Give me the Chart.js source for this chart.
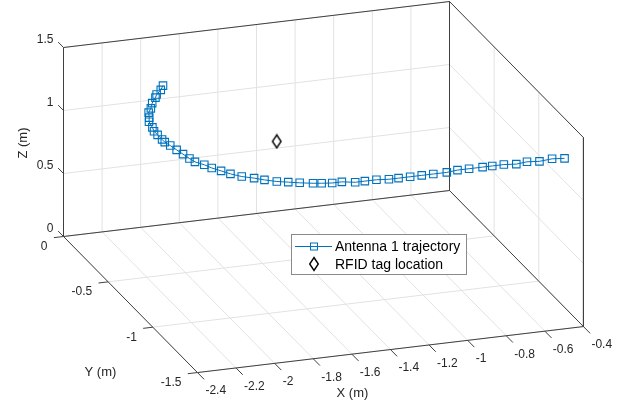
<!DOCTYPE html>
<html lang="en">
<head>
<meta charset="UTF-8">
<title>Antenna 1 trajectory</title>
<script src="https://cdn.jsdelivr.net/npm/chart.js"></script>
<style>
  html, body { margin: 0; padding: 0; background: #fff; }
  #wrap { width: 630px; height: 407px; }
</style>
</head>
<body>
<div id="wrap"><canvas id="trajChart" width="630" height="407"></canvas></div>
<script>
// axis ticks (metres)
const xTicks = [-2.4, -2.2, -2, -1.8, -1.6, -1.4, -1.2, -1, -0.8, -0.6, -0.4];
const yTicks = [0, -0.5, -1, -1.5];
const zTicks = [0, 0.5, 1, 1.5];
const xTickLabels = ['-2.4', '-2.2', '-2', '-1.8', '-1.6', '-1.4', '-1.2', '-1', '-0.8', '-0.6', '-0.4'];
const yTickLabels = ['0', '-0.5', '-1', '-1.5'];
const zTickLabels = ['0', '0.5', '1', '1.5'];

// antenna 1 trajectory
const trajX = [-1.94, -1.97, -2.01, -2.03, -2.07, -2.10, -2.13, -2.15, -2.17, -2.18, -2.19, -2.19, -2.19,
               -2.19, -2.18, -2.17, -2.16, -2.15, -2.14, -2.11, -2.09, -2.06, -2.03, -1.99, -1.94, -1.90,
               -1.85, -1.80, -1.75, -1.69, -1.65, -1.60, -1.55, -1.49, -1.44, -1.38, -1.32, -1.27, -1.21,
               -1.15, -1.09, -1.02, -0.96, -0.90, -0.83, -0.78, -0.72, -0.66, -0.60, -0.54, -0.47, -0.41];
const trajY = [-0.12, -0.16, -0.20, -0.23, -0.28, -0.33, -0.37, -0.42, -0.46, -0.52, -0.56, -0.60, -0.65,
               -0.68, -0.72, -0.77, -0.82, -0.87, -0.91, -0.95, -0.99, -1.03, -1.07, -1.11, -1.14, -1.17,
               -1.20, -1.22, -1.24, -1.26, -1.27, -1.28, -1.28, -1.30, -1.30, -1.30, -1.31, -1.31, -1.31,
               -1.31, -1.31, -1.31, -1.30, -1.30, -1.30, -1.30, -1.30, -1.31, -1.30, -1.31, -1.30, -1.31];
const trajZ = [1.2, 1.2, 1.2, 1.2, 1.2, 1.2, 1.2, 1.2, 1.2, 1.2, 1.2, 1.2, 1.2,
               1.2, 1.2, 1.2, 1.2, 1.2, 1.2, 1.2, 1.2, 1.2, 1.2, 1.2, 1.2, 1.2,
               1.2, 1.2, 1.2, 1.2, 1.2, 1.2, 1.2, 1.2, 1.2, 1.2, 1.2, 1.2, 1.2,
               1.2, 1.2, 1.2, 1.2, 1.2, 1.2, 1.2, 1.2, 1.2, 1.2, 1.2, 1.2, 1.2];

// RFID tag
const tagX = [-1.61];
const tagY = [-0.68];
const tagZ = [1.1];

const seriesNames = ['Antenna 1 trajectory', 'RFID tag location'];

// fixed view: orthographic projection of the 3d box onto the flat scales
const X0 = -2.4, X1 = -0.4, Y0 = 0, Y1 = -1.5, Z0 = 0, Z1 = 1.5;
function proj(X, Y, Z) {
    return {
        x: 63.5 + (X - X0) * 193 + (Y - Y0) * -89.3,
        y: 236.5 + (X - X0) * -23 + (Y - Y0) * -90.7 + (Z - Z0) * -126
    };
}

// join 3d segments into one dataset with gaps
function segments(list) {
    const out = [];
    list.forEach(s => {
        out.push(proj(s[0][0], s[0][1], s[0][2]));
        out.push(proj(s[1][0], s[1][1], s[1][2]));
        out.push({ x: null, y: null });
    });
    return out;
}

const gridSegs = [];
xTicks.forEach(x => {
    gridSegs.push([[x, Y0, Z0], [x, Y0, Z1]]);   // back wall
    gridSegs.push([[x, Y0, Z0], [x, Y1, Z0]]);   // floor
});
yTicks.forEach(y => {
    gridSegs.push([[X0, y, Z0], [X1, y, Z0]]);   // floor
    gridSegs.push([[X1, y, Z0], [X1, y, Z1]]);   // right wall
});
zTicks.forEach(z => {
    gridSegs.push([[X0, Y0, z], [X1, Y0, z]]);   // back wall
    gridSegs.push([[X1, Y0, z], [X1, Y1, z]]);   // right wall
});

const boxSegs = [
    [[X0, Y0, Z0], [X0, Y0, Z1]],
    [[X0, Y0, Z1], [X1, Y0, Z1]],
    [[X1, Y0, Z1], [X1, Y0, Z0]],
    [[X1, Y0, Z1], [X1, Y1, Z1]],
    [[X1, Y1, Z1], [X1, Y1, Z0]],
    [[X0, Y0, Z0], [X1, Y0, Z0]],
    [[X1, Y0, Z0], [X1, Y1, Z0]],
    [[X0, Y0, Z0], [X0, Y1, Z0]],
    [[X0, Y1, Z0], [X1, Y1, Z0]]
];
// little tick marks
xTicks.forEach(x => boxSegs.push([[x, Y1, Z0], [x, Y1 - 0.075, Z0]]));
yTicks.forEach(y => boxSegs.push([[X0, y, Z0], [X0 - 0.05, y, Z0]]));
zTicks.forEach(z => boxSegs.push([[X0, Y0, z], [X0, Y0 + 0.06, z]]));

const trajPoints = trajX.map((x, i) => proj(x, trajY[i], trajZ[i]));
const tagPoints = tagX.map((x, i) => proj(x, tagY[i], tagZ[i]));

// MATLAB style diamond (taller than wide)
const diamond = document.createElement('canvas');
diamond.width = 12;
diamond.height = 16;
(function () {
    const c = diamond.getContext('2d');
    c.strokeStyle = '#000';
    c.lineWidth = 1.4;
    c.beginPath();
    c.moveTo(6, 1.5);
    c.lineTo(10.3, 8);
    c.lineTo(6, 14.5);
    c.lineTo(1.7, 8);
    c.closePath();
    c.stroke();
})();

const BLUE = '#0072BD';
const FONT = '"Liberation Sans", Arial, sans-serif';
const TEXT = '#262626';

const axisText = {
    id: 'axisText',
    afterDatasetsDraw(chart) {
        const ctx = chart.ctx;
        const sx = chart.scales.x, sy = chart.scales.y;
        const px = p => [sx.getPixelForValue(p.x), sy.getPixelForValue(p.y)];
        ctx.save();
        ctx.fillStyle = TEXT;
        ctx.font = '12px ' + FONT;
        ctx.textBaseline = 'middle';

        ctx.textAlign = 'right';
        zTicks.forEach((z, i) => {
            const [x, y] = px(proj(X0, Y0, z));
            ctx.fillText(zTickLabels[i], x - 10, y - 8);
        });
        yTicks.forEach((v, i) => {
            const [x, y] = px(proj(X0, v, Z0));
            ctx.fillText(yTickLabels[i], x - 16, y + 10);
        });
        ctx.textAlign = 'left';
        xTicks.forEach((v, i) => {
            const [x, y] = px(proj(v, Y1, Z0));
            ctx.fillText(xTickLabels[i], x + 8, y + 18.5);
        });

        // axis titles
        ctx.font = '13px ' + FONT;
        ctx.textAlign = 'center';
        let [x, y] = px(proj((X0 + X1) / 2, Y1, Z0));
        ctx.fillText('X (m)', x - 38, y + 44);
        [x, y] = px(proj(X0, (Y0 + Y1) / 2, Z0));
        ctx.fillText('Y (m)', x - 30, y + 68);
        [x, y] = px(proj(X0, Y0, (Z0 + Z1) / 2));
        ctx.save();
        ctx.translate(x - 40, y + 1);
        ctx.rotate(-Math.PI / 2);
        ctx.fillText('Z (m)', 0, 0);
        ctx.restore();
        ctx.restore();
    },
    afterDraw(chart) {
        // legend box
        const ctx = chart.ctx;
        ctx.save();
        ctx.fillStyle = '#fff';
        ctx.strokeStyle = '#8a8a8a';
        ctx.lineWidth = 1;
        ctx.fillRect(291.5, 234.5, 175, 40);
        ctx.strokeRect(291.5, 234.5, 175, 40);

        ctx.strokeStyle = BLUE;
        ctx.beginPath();
        ctx.moveTo(295, 246.5);
        ctx.lineTo(332, 246.5);
        ctx.stroke();
        ctx.strokeRect(310.5, 243, 7, 7);
        ctx.drawImage(diamond, 314 - 6, 264 - 8);

        ctx.fillStyle = '#000';
        ctx.font = '14px ' + FONT;
        ctx.textAlign = 'left';
        ctx.textBaseline = 'middle';
        ctx.fillText(seriesNames[0], 335, 247);
        ctx.fillText(seriesNames[1], 335, 265);
        ctx.restore();
    }
};

new Chart(document.getElementById('trajChart'), {
    type: 'scatter',
    data: {
        datasets: [
            {
                label: seriesNames[0],
                data: trajPoints,
                showLine: true,
                borderColor: BLUE,
                backgroundColor: 'rgba(0,0,0,0)',
                borderWidth: 1,
                pointStyle: 'rect',
                pointRadius: 5.3,
                pointBorderWidth: 1.1,
                pointBorderColor: BLUE,
                pointBackgroundColor: 'rgba(0,0,0,0)',
                order: 0
            },
            {
                label: seriesNames[1],
                data: tagPoints,
                pointStyle: diamond,
                order: 1
            },
            {
                label: 'box',
                data: segments(boxSegs),
                showLine: true,
                borderColor: '#404040',
                borderWidth: 1,
                pointRadius: 0,
                spanGaps: false,
                order: 2
            },
            {
                label: 'grid',
                data: segments(gridSegs),
                showLine: true,
                borderColor: '#e2e2e2',
                borderWidth: 1,
                pointRadius: 0,
                spanGaps: false,
                order: 3
            }
        ]
    },
    options: {
        responsive: false,
        animation: false,
        layout: { padding: 0, autoPadding: false },
        plugins: {
            legend: { display: false },
            tooltip: { enabled: false }
        },
        scales: {
            x: { type: 'linear', min: 0, max: 630, display: false },
            y: { type: 'linear', min: 0, max: 407, reverse: true, display: false }
        }
    },
    plugins: [axisText]
});
</script>
</body>
</html>
